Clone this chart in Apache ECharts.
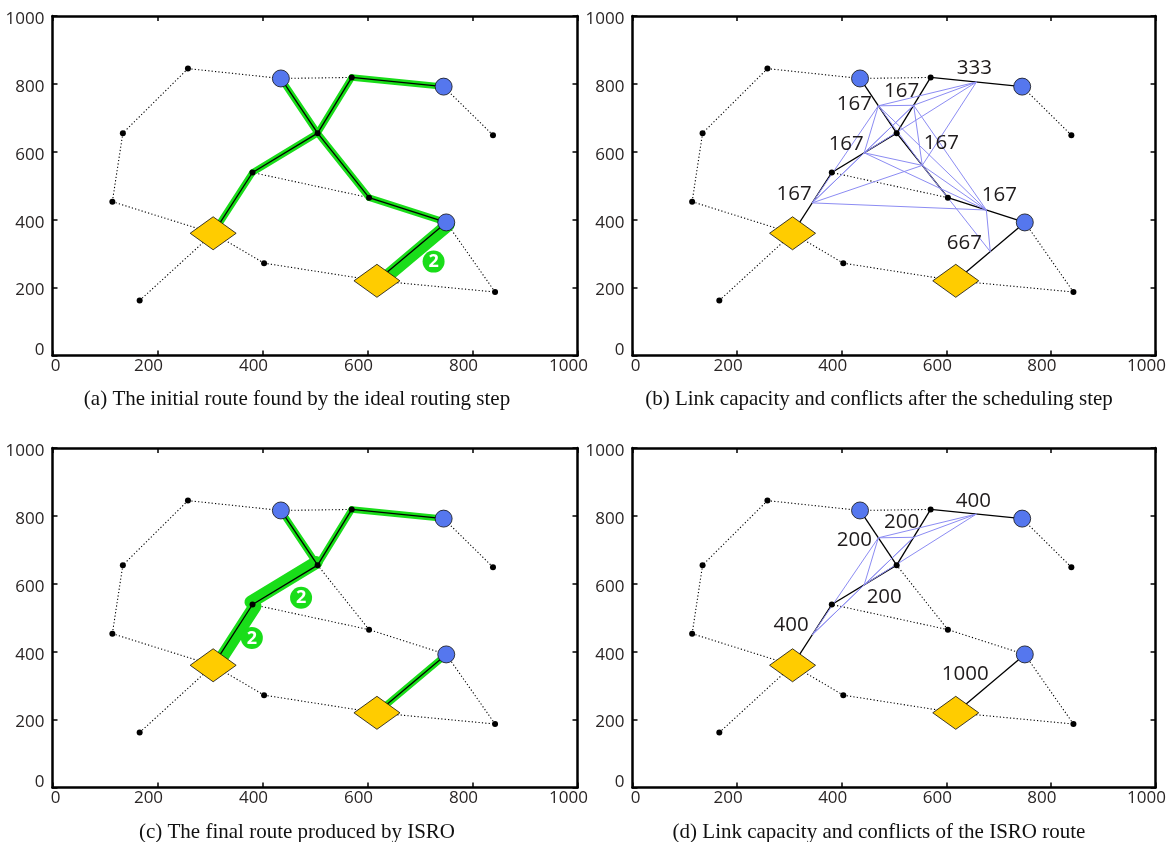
<!DOCTYPE html>
<html><head><meta charset="utf-8">
<script src="https://cdn.jsdelivr.net/npm/echarts/dist/echarts.min.js"></script>
<style>html,body{margin:0;padding:0;background:#fff}#c{width:1169px;height:842px}</style>
</head><body><div id="c"></div>
<script>
// ---------------- data ----------------
const axisTicks = [0, 200, 400, 600, 800, 1000];
// network node positions
const nodeX = [258, 134, 114, 166, 306, 403, 381, 505, 435, 570, 745, 839, 603, 750, 618, 843];
const nodeY = [845, 655, 453, 162, 360, 272, 539, 655, 816, 819, 792, 649, 465, 392, 220, 187];
const relayNodes = [0, 1, 2, 3, 5, 6, 7, 9, 11, 12, 15];
const sourceNodes = [8, 10, 13];
const gatewayNodes = [4, 14];
// all links of the network
const networkLinks = [[0,8],[0,1],[1,2],[2,4],[3,4],[4,5],[5,14],[14,15],[15,13],[13,12],[12,6],[12,7],[8,9],[10,11],[8,7],[7,9],[6,7],[4,6],[9,10],[13,14]];
// routes: [from, to, number of flows]
const routeInitial = [[8,7,1],[7,12,1],[12,13,1],[13,14,2],[4,6,1],[6,7,1],[7,9,1],[9,10,1]];
const routeFinal = [[8,7,1],[7,6,2],[6,4,2],[7,9,1],[9,10,1],[13,14,1]];
// link capacities (same order as the routes)
const capacityInitial = [167, 167, 167, 667, 167, 167, 167, 333];
const capacityFinal = [200, 200, 400, 200, 400, 1000];
// conflicts between route links (indices into the route arrays)
const conflictsInitial = [[0,1],[0,2],[0,4],[0,5],[0,6],[0,7],[1,2],[1,3],[1,4],[1,5],[1,6],[1,7],[2,3],[2,4],[2,5],[2,6],[4,5],[4,6],[5,6],[5,7],[6,7]];
const conflictsFinal = [[0,2],[0,1],[0,3],[0,4],[2,1],[2,3],[1,3],[1,4],[3,4]];
const captions = [
  '(a) The initial route found by the ideal routing step',
  '(b) Link capacity and conflicts after the scheduling step',
  '(c) The final route produced by ISRO',
  '(d) Link capacity and conflicts of the ISRO route'
];

// ---------------- styles / layout ----------------
const labelOffsetInitial = [[-24,-2],[19,-22],[13,-15],[-26,-8],[-18,-9],[-18,-9],[-12,-14],[-2,-14]];
const labelOffsetFinal = [[-24,2],[20,12],[-21,-10],[-12,-15],[-3,-13],[-25,-9]];
const badgeOffsetInitial = {3: [22, 10]};
const badgeOffsetFinal = {1: [16, 13], 2: [19, 3]};
const bandSideInitial = {3: 1};
const bandSideFinal = {1: -1, 2: 1};
const GREEN = '#19dd19';
const BLUE_LINE = '#8c8cf3';
const TXT = '#2a2626';
const grids = [
  {left: 52.5, top: 16, width: 525, height: 339.5},
  {left: 632.5, top: 16, width: 525, height: 339.5},
  {left: 52.5, top: 448, width: 525, height: 339.5},
  {left: 632.5, top: 448, width: 525, height: 339.5}
];
const captionPos = [[297, 399], [879, 399], [297, 832], [879, 832]];

// ---------------- helpers ----------------
const seg = (a, b) => [nodeX[a], nodeY[a], nodeX[b], nodeY[b]];
const mid = (l) => [(nodeX[l[0]] + nodeX[l[1]]) / 2, (nodeY[l[0]] + nodeY[l[1]]) / 2];
const inRoute = (route, l) => route.some(r => (r[0] === l[0] && r[1] === l[1]) || (r[0] === l[1] && r[1] === l[0]));

const labelFont = {fontFamily: 'Open Sans', fontSize: 17, color: TXT};
function xAxesFor(g) {
  const common = {type: 'value', gridIndex: g, min: 0, max: 1000, interval: 200,
    axisLine: {show: true, onZero: false, lineStyle: {color: '#000', width: 2.5}},
    axisTick: {show: true, inside: true, length: 5, lineStyle: {color: '#000', width: 1.5}},
    splitLine: {show: false}};
  return [
    Object.assign({}, common, {position: 'bottom', axisLabel: Object.assign({margin: 2,
      formatter: v => v === 0 ? '{z|0}' : '{n|' + v + '}',
      rich: {n: Object.assign({padding: [0, 18, 0, 0]}, labelFont), z: Object.assign({padding: [0, 0, 0, 6]}, labelFont)}}, labelFont)}),
    Object.assign({}, common, {position: 'top', axisLabel: {show: false}})
  ];
}
function yAxesFor(g) {
  const common = {type: 'value', gridIndex: g, min: 0, max: 1000, interval: 200,
    axisLine: {show: true, onZero: false, lineStyle: {color: '#000', width: 2.5}},
    axisTick: {show: true, inside: true, length: 5, lineStyle: {color: '#000', width: 1.5}},
    splitLine: {show: false}};
  return [
    Object.assign({}, common, {position: 'left', axisLabel: Object.assign({margin: 8,
      formatter: v => v === 0 ? '{z|0}' : '{n|' + v + '}',
      rich: {n: Object.assign({padding: [6, 0, 0, 0]}, labelFont), z: Object.assign({padding: [0, 0, 10, 0]}, labelFont)}}, labelFont)}),
    Object.assign({}, common, {position: 'right', axisLabel: {show: false}})
  ];
}

function segSeries(g, data, style, z) {
  return {type: 'custom', xAxisIndex: 2 * g, yAxisIndex: 2 * g, z: z, silent: true, clip: false,
    encode: {x: [0, 2], y: [1, 3]}, data: data,
    renderItem: function (params, api) {
      const p1 = api.coord([api.value(0), api.value(1)]);
      const p2 = api.coord([api.value(2), api.value(3)]);
      return {type: 'line', shape: {x1: p1[0], y1: p1[1], x2: p2[0], y2: p2[1]}, style: Object.assign({fill: null}, style)};
    }};
}
function bandSeries(g, route, sides) {
  const data = route.map((r, i) => seg(r[0], r[1]).concat([r[2], sides[i] || 0]));
  return {type: 'custom', xAxisIndex: 2 * g, yAxisIndex: 2 * g, z: 2, silent: true, clip: false,
    encode: {x: [0, 2], y: [1, 3]}, data: data,
    renderItem: function (params, api) {
      const p1 = api.coord([api.value(0), api.value(1)]);
      const p2 = api.coord([api.value(2), api.value(3)]);
      const flows = api.value(4), side = api.value(5);
      const dx = p2[0] - p1[0], dy = p2[1] - p1[1], len = Math.hypot(dx, dy);
      const sh = (flows - 1) * 3 * side;
      const ox = dy / len * sh, oy = -dx / len * sh;
      return {type: 'line', shape: {x1: p1[0] + ox, y1: p1[1] + oy, x2: p2[0] + ox, y2: p2[1] + oy},
        style: {stroke: GREEN, lineWidth: 6.5 * flows, lineCap: 'round', fill: null}};
    }};
}
function nodeSeries(g) {
  return [
    {type: 'scatter', xAxisIndex: 2 * g, yAxisIndex: 2 * g, z: 5, silent: true, symbol: 'circle', symbolSize: 6,
      itemStyle: {color: '#000', opacity: 1}, data: relayNodes.map(i => [nodeX[i], nodeY[i]])},
    {type: 'scatter', xAxisIndex: 2 * g, yAxisIndex: 2 * g, z: 6, silent: true, symbol: 'circle', symbolSize: 17,
      itemStyle: {color: '#5577ee', borderColor: '#111', borderWidth: 0.8, opacity: 1}, data: sourceNodes.map(i => [nodeX[i], nodeY[i]])},
    {type: 'scatter', xAxisIndex: 2 * g, yAxisIndex: 2 * g, z: 6, silent: true, symbol: 'diamond', symbolSize: [46, 33],
      itemStyle: {color: '#ffcc00', borderColor: '#111', borderWidth: 0.8, opacity: 1}, data: gatewayNodes.map(i => [nodeX[i], nodeY[i]])}
  ];
}
function capacitySeries(g, route, caps, offs) {
  const data = route.map((r, i) => mid(r).concat([caps[i], offs[i][0], offs[i][1]]));
  return {type: 'custom', xAxisIndex: 2 * g, yAxisIndex: 2 * g, z: 8, silent: true, clip: false,
    encode: {x: 0, y: 1}, data: data,
    renderItem: function (params, api) {
      const p = api.coord([api.value(0), api.value(1)]);
      return {type: 'text', x: p[0] + api.value(3), y: p[1] + api.value(4),
        style: {text: String(api.value(2)), fontFamily: 'Open Sans', fontSize: 20.5, fill: '#1f1b1c',
          align: 'center', verticalAlign: 'middle', textAlign: 'center', textVerticalAlign: 'middle'}};
    }};
}
function badgeSeries(g, route, offs) {
  const data = Object.keys(offs).map(k => mid(route[k]).concat([route[k][2], offs[k][0], offs[k][1]]));
  return {type: 'custom', xAxisIndex: 2 * g, yAxisIndex: 2 * g, z: 8, silent: true, clip: false,
    encode: {x: 0, y: 1}, data: data,
    renderItem: function (params, api) {
      const p = api.coord([api.value(0), api.value(1)]);
      const cx = p[0] + api.value(3), cy = p[1] + api.value(4);
      return {type: 'group', children: [
        {type: 'circle', shape: {cx: cx, cy: cy, r: 11}, style: {fill: GREEN}},
        {type: 'text', x: cx, y: cy + 0.5, style: {text: String(api.value(2)), fontFamily: 'Open Sans', fontWeight: 'bold',
          fontSize: 18, fill: '#fff', align: 'center', verticalAlign: 'middle', textAlign: 'center', textVerticalAlign: 'middle'}}
      ]};
    }};
}

function panelSeries(g, route, opts) {
  const dotted = networkLinks.filter(l => !inRoute(route, l)).map(l => seg(l[0], l[1]));
  const list = [segSeries(g, dotted, {stroke: '#000', lineWidth: 1.1, lineDash: [1.2, 2.2]}, 1)];
  if (opts.band) list.push(bandSeries(g, route, opts.sides));
  list.push(segSeries(g, route.map(r => seg(r[0], r[1])), {stroke: '#000', lineWidth: 1.3}, 3));
  if (opts.conflicts) {
    const cd = opts.conflicts.map(c => mid(route[c[0]]).concat(mid(route[c[1]])));
    list.push(segSeries(g, cd, {stroke: BLUE_LINE, lineWidth: 1}, 4));
  }
  list.push(...nodeSeries(g));
  if (opts.caps) list.push(capacitySeries(g, route, opts.caps, opts.offs));
  if (opts.badges) list.push(badgeSeries(g, route, opts.badges));
  return list;
}

const series = [].concat(
  panelSeries(0, routeInitial, {band: true, sides: bandSideInitial, badges: badgeOffsetInitial}),
  panelSeries(1, routeInitial, {conflicts: conflictsInitial, caps: capacityInitial, offs: labelOffsetInitial}),
  panelSeries(2, routeFinal, {band: true, sides: bandSideFinal, badges: badgeOffsetFinal}),
  panelSeries(3, routeFinal, {conflicts: conflictsFinal, caps: capacityFinal, offs: labelOffsetFinal})
);

const chart = echarts.init(document.getElementById('c'), null, {renderer: 'canvas'});
chart.setOption({
  animation: false,
  backgroundColor: '#fff',
  grid: grids,
  xAxis: [].concat(xAxesFor(0), xAxesFor(1), xAxesFor(2), xAxesFor(3)),
  yAxis: [].concat(yAxesFor(0), yAxesFor(1), yAxesFor(2), yAxesFor(3)),
  series: series,
  graphic: captions.map((t, i) => ({type: 'text', x: captionPos[i][0], y: captionPos[i][1], silent: true,
    style: {text: t, fontFamily: 'Liberation Serif', fontSize: 21, fill: '#111', align: 'center', verticalAlign: 'middle',
      textAlign: 'center', textVerticalAlign: 'middle'}}))
});
</script></body></html>
